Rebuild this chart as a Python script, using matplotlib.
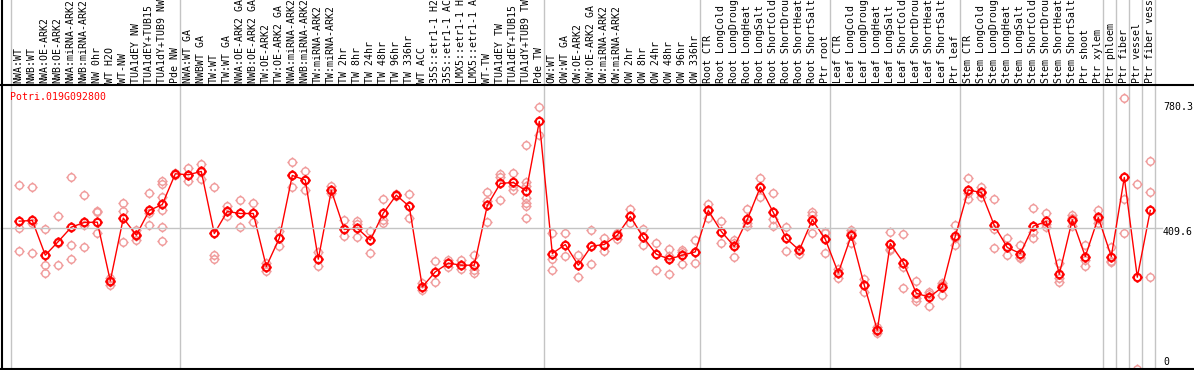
import matplotlib
matplotlib.use("Agg")
import matplotlib.pyplot as plt
import numpy as np
from matplotlib.path import Path
from matplotlib.lines import Line2D
import matplotlib.transforms as mtransforms

GENE = "Potri.019G092800"

LABELS = [
    # group 1
    "NWA:WT", "NWB:WT", "NWA:OE-ARK2", "NWB:OE-ARK2", "NWA:miRNA-ARK2",
    "NWB:miRNA-ARK2", "NW 0hr", "WT H2O", "WT-NW", "TUA1dEY NW",
    "TUA1dEY+TUB15 NW", "TUA1dY+TUB9 NW", "Pde NW",
    # group 2
    "NWA:WT GA", "NWBWT GA", "TW:WT", "TW:WT GA", "NWA:OE-ARK2 GA",
    "NWB:OE-ARK2 GA", "TW:OE-ARK2", "TW:OE-ARK2 GA", "NWA:miRNA-ARK2 GA",
    "NWB:miRNA-ARK2 GA", "TW:miRNA-ARK2", "TW:miRNA-ARK2", "TW 2hr", "TW 8hr",
    "TW 24hr", "TW 48hr", "TW 96hr", "TW 336hr", "WT ACC", "35S::etr1-1 H2O",
    "35S::etr1-1 ACC", "LMX5::etr1-1 H2O", "LMX5::etr1-1 ACC", "WT-TW",
    "TUA1dEY TW", "TUA1dEY+TUB15 TW", "TUA1dY+TUB9 TW", "Pde TW",
    # group 3
    "OW:WT", "OW:WT GA", "OW:OE-ARK2", "OW:OE-ARK2 GA", "OW:miRNA-ARK2",
    "OW:miRNA-ARK2", "OW 2hr", "OW 8hr", "OW 24hr", "OW 48hr", "OW 96hr",
    "OW 336hr",
    # group 4
    "Root CTR", "Root LongCold", "Root LongDrought", "Root LongHeat",
    "Root LongSalt", "Root ShortCold", "Root ShortDrought", "Root ShortHeat",
    "Root ShortSalt", "Ptr root",
    # group 5
    "Leaf CTR", "Leaf LongCold", "Leaf LongDrought", "Leaf LongHeat",
    "Leaf LongSalt", "Leaf ShortCold", "Leaf ShortDrought", "Leaf ShortHeat",
    "Leaf ShortSalt", "Ptr leaf",
    # group 6
    "Stem CTR", "Stem LongCold", "Stem LongDrought", "Stem LongHeat",
    "Stem LongSalt", "Stem ShortCold", "Stem ShortDrought", "Stem ShortHeat",
    "Stem ShortSalt", "Ptr shoot", "Ptr xylem",
    # singles
    "Ptr phloem", "Ptr fiber", "Ptr vessel", "Ptr fiber vessel",
]

# first category index of each sample group
GROUP_STARTS = [0, 13, 41, 53, 63, 73, 84, 85, 86, 87]

MEANS = [
    430.0, 432.0, 331.0, 370.8, 412.5, 426.2, 427.1, 256.3, 438.7, 389.3, 461.1, 478.5, 567.8,
    564.9, 574.6, 394.1, 458.2, 452.3, 452.3, 298.0, 380.5, 563.0, 549.4, 319.4, 519.3, 405.8,
    409.6, 374.7, 453.3, 505.7, 472.7, 238.9, 282.5, 307.8, 301.9, 301.9, 475.6, 539.7, 542.6,
    517.4, 720.2,
    335.9, 362.1, 301.9, 357.2, 362.1, 389.3, 443.6, 382.5, 334.0, 319.4, 331.0, 340.7,
    461.1, 399.9, 356.3, 434.9, 529.0, 455.3, 379.6, 345.6, 433.9, 377.6,
    279.6, 388.3, 243.7, 112.7, 365.0, 309.7, 220.4, 208.8, 237.9, 386.3,
    520.3, 513.5, 417.4, 353.4, 335.9, 415.5, 429.0, 275.7, 433.9, 327.2, 440.7,
    327.2, 557.1, 267.0, 461.1,
]

REPLICATES = [
    [533.9, 410.6, 344.6], [529.0, 425.2, 338.8], [406.7, 301.9, 280.6],
    [444.6, 366.0, 301.9], [557.1, 360.2, 321.3], [504.7, 418.4, 354.3],
    [460.1, 455.3, 394.1], [266.0, 253.4, 243.7], [482.4, 458.2, 370.8],
    [404.8, 386.3, 375.7], [510.6, 454.3, 417.4],
    [547.4, 537.7, 500.9, 461.1, 412.5, 373.7], [570.7, 563.0],
    [584.3, 564.9, 545.5], [596.0, 573.6, 552.3], [528.0, 331.0, 321.3],
    [473.7, 458.2, 443.6], [491.2, 452.3, 411.6], [481.5, 452.3, 426.2],
    [308.7, 284.5], [400.9, 380.5, 356.3], [601.8, 563.0, 528.0],
    [576.5, 549.4, 520.3], [340.7, 299.0], [531.9, 510.6],
    [432.9, 405.8, 385.4], [430.0, 421.3, 383.4], [400.9, 338.8],
    [494.1, 432.9, 423.2], [507.6, 502.8], [507.6, 438.7], [250.5, 231.1],
    [315.5, 254.4], [316.5, 297.1], [316.5, 291.3], [331.0, 287.4, 280.6],
    [514.5, 489.2, 426.2], [566.9, 559.1, 491.2], [568.8, 531.9, 520.3],
    [651.3, 544.5, 531.9, 496.0, 481.5, 473.7, 437.8], [760.9, 680.4],
    [394.1, 320.4, 289.3], [394.1, 329.1], [331.0, 268.9], [402.9, 306.8],
    [379.6, 344.6], [397.0, 378.6], [464.0, 425.2], [406.7, 360.2],
    [367.9, 289.3], [350.4, 329.1, 277.7], [345.6, 340.7, 306.8],
    [374.7, 340.7, 307.8],
    [479.5, 439.7], [430.0, 367.9], [374.7, 367.0, 327.2], [464.0, 423.2, 416.4],
    [554.2, 500.9], [510.6, 435.9, 416.4], [413.5, 342.7], [350.4, 335.9],
    [456.2, 447.5, 397.0], [396.1, 398.0, 338.8],
    [292.2, 266.0], [403.8, 394.1, 367.0], [261.2, 225.3], [122.4, 110.8, 105.9],
    [399.9, 349.5, 345.6], [391.2, 297.1, 236.9], [257.3, 206.8, 197.1],
    [225.3, 218.5, 182.6], [251.5, 245.6, 216.5], [417.4, 379.6, 362.1],
    [555.2, 512.5, 493.1], [529.0, 512.5, 498.9], [494.1, 405.8, 351.4],
    [379.6, 358.5, 332.0], [360.2, 325.2, 322.3], [467.9, 399.0, 379.6],
    [453.3, 420.3, 413.5], [308.7, 266.0, 252.4], [446.5, 438.8, 416.4],
    [362.1, 318.4, 301.0], [461.1, 436.8, 424.2], [355.3, 315.5, 310.7],
    [787.1, 493.1, 394.1], [536.8, 0.0], [603.7, 513.5, 267.0],
]

Y_MARKS = [780.3, 409.6, 0]
Y_MAX = 826.0

W, H = 1194, 370
RED = "#ff0000"
PINK = "#f09a9a"
GRID = "#c4c4c4"


def sun_marker():
    # circle with four short ticks, like the bitmap marker of the original
    circle = Path.unit_circle()
    ticks = []
    for dx, dy in [(1, 0), (-1, 0), (0, 1), (0, -1)]:
        ticks.append(Path([(dx * 1.0, dy * 1.0), (dx * 1.4, dy * 1.4)],
                          [Path.MOVETO, Path.LINETO]))
    return Path.make_compound_path(circle, *ticks)


def px(x, y):
    # pixel coords (from top-left) to figure fraction
    return x / W, 1 - y / H


plt.rcParams["font.family"] = ["DejaVu Sans Mono"]
fig = plt.figure(figsize=(W / 100, H / 100), dpi=100)

ax_left, ax_right = 1.0, 1155.7
ax_top, ax_bottom = 85.0, 369.0
ax = fig.add_axes([ax_left / W, 1 - ax_bottom / H,
                   (ax_right - ax_left) / W, (ax_bottom - ax_top) / H])

x0, step = 19.3, 13.0
ax.set_xlim((ax_left - x0) / step, (ax_right - x0) / step)
ax.set_ylim(0, Y_MAX)
ax.set_xticks([])
ax.set_yticks([])
for s in ax.spines.values():
    s.set_visible(False)

n = len(LABELS)
xs = np.arange(n)
marker = sun_marker()
msize = 7.4

# group separators, running up through the label area
top_frac = (ax_bottom - 0) / (ax_bottom - ax_top)
for g in GROUP_STARTS:
    ax.axvline(g - 0.64, ymin=0, ymax=top_frac, color=GRID, lw=1.0, clip_on=False, zorder=1)
ax.axvline((ax_right - x0) / step - 0.02, ymin=0, ymax=top_frac, color=GRID, lw=1.0,
           clip_on=False, zorder=1)

# horizontal reference at 409.6
fig.add_artist(Line2D([ax_left / W, 1162 / W], [1 - (368.7 - 409.6 * 0.3435) / H] * 2,
                      color=GRID, lw=1.0, zorder=1))

# replicate points
for i, reps in enumerate(REPLICATES):
    ax.plot([i] * len(reps), reps, linestyle="none", marker=marker, markersize=msize,
            markerfacecolor="none", markeredgecolor=PINK, markeredgewidth=1.0,
            clip_on=False, zorder=2)

# mean line
ax.plot(xs, MEANS, color=RED, lw=1.0, marker=marker, markersize=msize,
        markerfacecolor="none", markeredgecolor=RED, markeredgewidth=1.5, zorder=3)

# rotated column labels above the plot
trans = mtransforms.blended_transform_factory(ax.transData, ax.transAxes)
for i, lab in enumerate(LABELS):
    ax.text(i - 0.05, 1 + 2.0 / (ax_bottom - ax_top), lab, transform=trans,
            rotation=90, ha="center", va="bottom", fontsize=7.1, color="black",
            clip_on=False)

# frame lines
fig.add_artist(Line2D([0, 1], [1 - ax_top / H] * 2, color="black", lw=1.5))
fig.add_artist(Line2D([0, 1], [1 - ax_bottom / H] * 2, color="black", lw=1.5))
fig.add_artist(Line2D([1.5 / W] * 2, [1 - ax_bottom / H, 1], color="black", lw=1.5))

# gene name
fig.text(*px(10, 97), GENE, color=RED, fontsize=7.1, ha="left", va="center")

# y value marks on the right
fig.text(*px(1163, 107), "780.3", fontsize=7.1, ha="left", va="center")
fig.text(*px(1163, 232), "409.6", fontsize=7.1, ha="left", va="center")
fig.text(*px(1163, 362), "0", fontsize=7.1, ha="left", va="center")

fig.savefig("out.png", dpi=100)
